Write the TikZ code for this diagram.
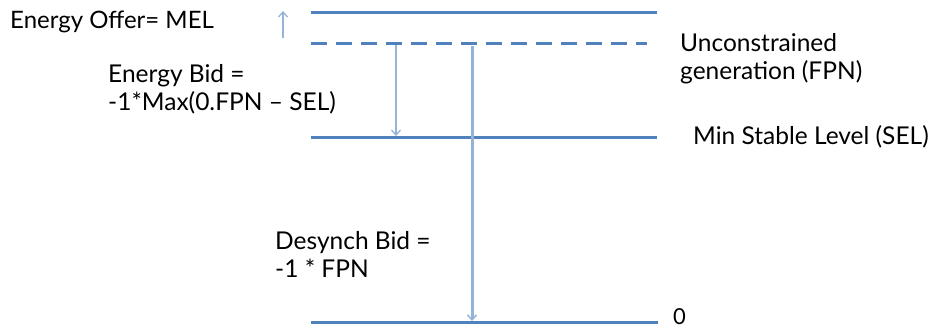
\documentclass[tikz,border=0pt]{standalone}
\usepackage{fontspec}
\setmainfont{Lato}
\usetikzlibrary{arrows.meta}
\definecolor{lvl}{RGB}{79,129,189}
\definecolor{arr}{RGB}{149,179,215}
\tikzset{
  level/.style={draw=lvl, line width=3pt},
  dashlevel/.style={draw=lvl, line width=3pt, dash pattern=on 16pt off 9pt},
  thinarrow/.style={draw=arr, line width=1.3pt, -{Straight Barb[length=5pt,width=9pt,line width=1.3pt]}},
  thickarrow/.style={draw=arr, line width=3pt, -{Straight Barb[length=5pt,width=9pt,line width=1.5pt]}},
  lbl/.style={anchor=west, inner sep=0pt, font=\fontsize{24.5}{28}\selectfont, align=left},
}
\begin{document}
\begin{tikzpicture}[x=1pt,y=-1pt]
\useasboundingbox (0,0) rectangle (946,330);
% level line ends
\coordinate (t1) at (311,12);  \coordinate (t2) at (657,12);
\coordinate (d1) at (311,43);  \coordinate (d2) at (647,43);
\coordinate (s1) at (311,137); \coordinate (s2) at (657,137);
\coordinate (z1) at (311,322); \coordinate (z2) at (658,322);
\draw[level] (t1) -- (t2);
\draw[dashlevel] (d1) -- (d2);
\draw[level] (s1) -- (s2);
\draw[level] (z1) -- (z2);
% arrows
\coordinate (ua) at (283,38); \coordinate (ub) at (283,11);
\draw[thinarrow] (ua) -- (ub);
\coordinate (ea) at (396,45); \coordinate (eb) at (396,136);
\draw[thinarrow] (ea) -- (eb);
\coordinate (da) at (472,46); \coordinate (db) at (472,321);
\draw[thickarrow] (da) -- (db);
% labels
\node[lbl, font=\fontsize{24}{28}\selectfont] (offer) at (10,22) {Energy Offer= MEL};
\node[lbl] (unc) at (680,59) {Unconstrained\\generation (FPN)};
\node[lbl] (ebid) at (108,89) {Energy Bid =\\-1*Max(0.FPN – SEL)};
\node[lbl] (sel) at (693,137) {Min Stable Level (SEL)};
\node[lbl] (dbid) at (275,254) {Desynch Bid =\\-1 * FPN};
\node[lbl, font=\fontsize{22}{26}\selectfont] (zero) at (673,317) {0};
\end{tikzpicture}
\end{document}
